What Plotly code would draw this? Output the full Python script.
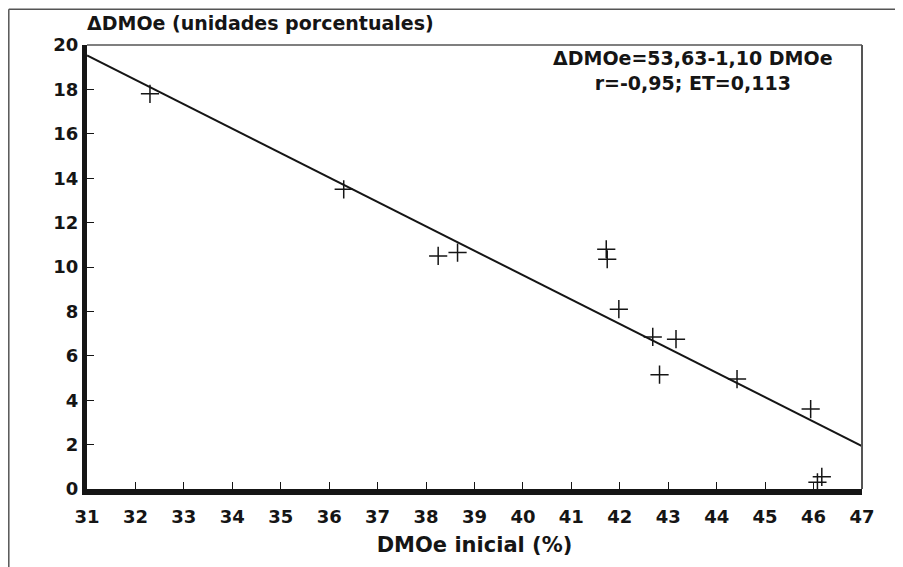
import plotly.graph_objects as go

# Data
dmoe_inicial = [32.3, 36.3, 38.25, 38.65, 41.72, 41.74, 41.98, 42.68, 42.82,
                43.16, 44.42, 45.94, 46.08, 46.17]
delta_dmoe = [17.8, 13.5, 10.5, 10.65, 10.8, 10.35, 8.1, 6.85, 5.15,
              6.75, 4.95, 3.6, 0.3, 0.55]

intercept = 53.63
slope = -1.10
line_x = [31, 47]
line_y = [intercept + slope * v for v in line_x]

x_ticks = list(range(31, 48))
y_ticks = list(range(0, 21, 2))

FONT = "DejaVu Sans"
INK = "#151515"

# page body has an 8px margin, so the figure is drawn 8px smaller
W, H = 895, 559
L, R, T, B = 79, 41, 37, 78

fig = go.Figure()
fig.add_trace(go.Scatter(x=line_x, y=line_y, mode="lines",
                         line=dict(color=INK, width=2), showlegend=False,
                         cliponaxis=False))
fig.add_trace(go.Scatter(x=dmoe_inicial, y=delta_dmoe, mode="markers",
                         marker=dict(symbol="cross-thin", size=13,
                                     line=dict(color=INK, width=1.5)),
                         showlegend=False))

fig.update_layout(
    width=W, height=H,
    margin=dict(l=L, r=R, t=T, b=B),
    paper_bgcolor="white", plot_bgcolor="white",
    font=dict(family=FONT, color=INK),
    xaxis=dict(range=[31, 47], tickvals=x_ticks, ticktext=[str(t) for t in x_ticks],
               ticks="inside", ticklen=7, tickwidth=1.3, tickcolor=INK,
               showline=True, linewidth=6, linecolor=INK, showgrid=False,
               zeroline=False, tickfont=dict(size=18, family=FONT, weight="bold"),
               ticklabelstandoff=6,
               title=dict(text="<b>DMOe inicial (%)</b>", font=dict(size=21, family=FONT),
                          standoff=14)),
    yaxis=dict(range=[0, 20], tickvals=y_ticks, ticktext=[str(t) for t in y_ticks],
               ticks="inside", ticklen=7, tickwidth=1.3, tickcolor=INK,
               showline=True, linewidth=5, linecolor=INK, showgrid=False,
               zeroline=False, tickfont=dict(size=18, family=FONT, weight="bold")),
)

pw = W - L - R
ph = H - T - B

# Plot-area top and right borders (thin)
fig.add_shape(type="line", xref="paper", yref="paper", x0=0, x1=1, y0=1, y1=1,
              line=dict(color="#555", width=1.5))
fig.add_shape(type="line", xref="paper", yref="paper", x0=1, x1=1, y0=0, y1=1,
              line=dict(color="#555", width=2))
# Outer frame (left and top)
fx0 = (0.8 - L) / pw
fy1 = (H - B - 1.2) / ph
fx1 = (W - L) / pw
fy0 = -B / ph
fig.add_shape(type="line", xref="paper", yref="paper", x0=fx0, x1=fx0, y0=fy0, y1=fy1,
              line=dict(color="#555", width=1.5))
fig.add_shape(type="line", xref="paper", yref="paper", x0=fx0, x1=fx1, y0=fy1, y1=fy1,
              line=dict(color="#555", width=1.5))

# Y axis title at top left
fig.add_annotation(text="<b>ΔDMOe (unidades porcentuales)</b>", xref="paper", yref="paper",
                   x=-0.003, y=(H - B - 15) / ph, xanchor="left", yanchor="middle",
                   showarrow=False, font=dict(size=19, family=FONT, color=INK))

# Regression equation
fig.add_annotation(text="<b>ΔDMOe=53,63-1,10 DMOe</b><br><b>r=-0,95; ET=0,113</b>",
                   xref="paper", yref="paper", x=(685 - L) / pw, y=(H - B - 37) / ph,
                   xanchor="center", yanchor="top",
                   align="center", showarrow=False,
                   font=dict(size=19, family=FONT, color=INK))

fig.write_html("out.html")
